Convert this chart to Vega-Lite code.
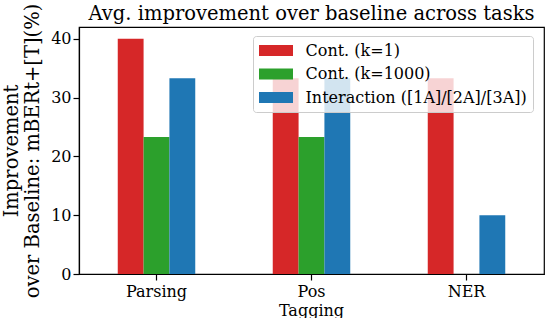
{
  "$schema": "https://vega.github.io/schema/vega-lite/v6.json",
  "width": 465,
  "height": 247,
  "autosize": {"type": "none"},
  "padding": {"left": 79, "top": 27, "right": 2, "bottom": 44},
  "title": {"text": "Avg. improvement over baseline across tasks", "font": "DejaVu Serif", "fontSize": 19.5, "fontWeight": "normal", "color": "black", "offset": 0, "dy": 21, "anchor": "middle", "frame": "group"},
  "data": {"values": [
    {"task": "Parsing", "method": "Cont. (k=1)", "value": 40},
    {"task": "Parsing", "method": "Cont. (k=1000)", "value": 23.3},
    {"task": "Parsing", "method": "Interaction ([1A]/[2A]/[3A])", "value": 33.3},
    {"task": "Pos Tagging", "method": "Cont. (k=1)", "value": 33.3},
    {"task": "Pos Tagging", "method": "Cont. (k=1000)", "value": 23.3},
    {"task": "Pos Tagging", "method": "Interaction ([1A]/[2A]/[3A])", "value": 33.3},
    {"task": "NER", "method": "Cont. (k=1)", "value": 33.3},
    {"task": "NER", "method": "Cont. (k=1000)", "value": 0},
    {"task": "NER", "method": "Interaction ([1A]/[2A]/[3A])", "value": 10}
  ]},
  "mark": {"type": "bar"},
  "encoding": {
    "x": {"field": "task", "type": "nominal", "sort": ["Parsing", "Pos Tagging", "NER"],
      "scale": {"paddingInner": 0.5, "paddingOuter": 0.25},
      "axis": {"title": null, "labelAngle": 0, "labelExpr": "datum.value == 'Pos Tagging' ? ['Pos', 'Tagging'] : datum.value", "labelPadding": 3, "labelLineHeight": 19}},
    "xOffset": {"field": "method", "type": "nominal", "sort": ["Cont. (k=1)", "Cont. (k=1000)", "Interaction ([1A]/[2A]/[3A])"],
      "scale": {"paddingInner": 0, "paddingOuter": 0}},
    "y": {"field": "value", "type": "quantitative", "scale": {"domain": [0, 42], "nice": false},
      "axis": {"values": [0, 10, 20, 30, 40], "title": ["Improvement", "over Baseline: mBERt+[T](%)"], "titlePadding": 8, "titleLineHeight": 21.5}},
    "color": {"field": "method", "type": "nominal", "sort": ["Cont. (k=1)", "Cont. (k=1000)", "Interaction ([1A]/[2A]/[3A])"],
      "scale": {"domain": ["Cont. (k=1)", "Cont. (k=1000)", "Interaction ([1A]/[2A]/[3A])"], "range": ["#d62728", "#2ca02c", "#1f77b4"]},
      "legend": {"orient": "none", "legendX": 174, "legendY": 9, "title": null,
        "fillColor": "rgba(255,255,255,0.8)", "strokeColor": "#cccccc", "cornerRadius": 3, "padding": 6,
        "symbolType": "M-2,-0.64H2V0.64H-2Z", "symbolSize": 289, "symbolOffset": 8.5, "symbolStrokeWidth": 0, "symbolOpacity": 1,
        "labelFont": "DejaVu Serif", "labelFontSize": 16, "labelColor": "black", "labelOffset": 21, "labelLimit": 400, "rowPadding": 6.5}}
  },
  "config": {
    "font": "DejaVu Serif",
    "view": {"stroke": "black", "strokeWidth": 1.2},
    "legend": {"labelFont": "DejaVu Serif"},
    "axis": {"grid": false, "domainColor": "black", "domainWidth": 1.2, "tickColor": "black", "tickSize": 6, "tickWidth": 1.2,
      "labelFont": "DejaVu Serif", "labelFontSize": 16, "labelColor": "black",
      "titleFont": "DejaVu Serif", "titleFontSize": 19.5, "titleFontWeight": "normal", "titleColor": "black"}
  }
}
